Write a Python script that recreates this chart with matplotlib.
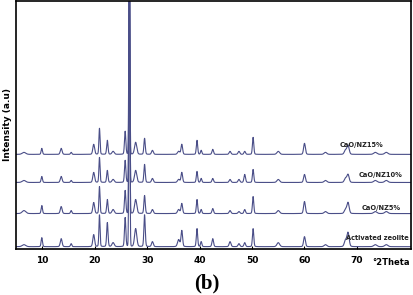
import numpy as np
import matplotlib
matplotlib.use("Agg")
import matplotlib.pyplot as plt

# XRD peak tables: position (deg 2theta), height (px), width (deg)
positions = [6.5, 9.9, 13.6, 15.5, 19.8, 20.9, 22.4, 23.5, 25.8, 26.6, 27.8, 29.5,
             31.0, 36.0, 36.6, 39.5, 40.3, 42.5, 45.8, 47.5, 48.6, 50.2, 55.0,
             60.0, 64.0, 67.8, 68.3, 73.5, 75.6]
widths = [0.8, 0.3, 0.4, 0.3, 0.4, 0.25, 0.3, 0.5, 0.3, 0.22, 0.5, 0.3,
          0.4, 0.5, 0.35, 0.3, 0.3, 0.35, 0.4, 0.4, 0.35, 0.3, 0.6,
          0.4, 0.6, 0.5, 0.5, 0.7, 0.7]

h_zeolite = [2, 9, 8, 3, 12, 32, 24, 4, 29, 320, 18, 32,
             5, 7, 16, 18, 5, 8, 5, 3, 4, 18, 4,
             10, 2, 6, 14, 2, 2]
h_nz5 = [3, 8, 7, 3, 11, 27, 14, 4, 23, 300, 14, 18,
         4, 4, 10, 14, 4, 5, 3, 2, 4, 17, 3,
         12, 2, 4, 11, 2, 2]
h_nz10 = [2, 6, 6, 2, 10, 25, 12, 3, 22, 280, 12, 18,
          4, 3, 10, 11, 4, 4, 3, 3, 8, 13, 3,
          8, 2, 4, 8, 2, 2]
h_nz15 = [2, 6, 6, 2, 10, 26, 14, 3, 23, 260, 12, 16,
          4, 3, 10, 14, 4, 5, 3, 3, 3, 17, 3,
          11, 2, 4, 9, 2, 2]

offsets = [2, 35, 66, 94]
labels = ["Activated zeolite", "CaO/NZ5%", "CaO/NZ10%", "CaO/NZ15%"]
label_x = [73.9, 74.6, 74.6, 70.8]
label_y = [11, 41, 73, 103]

xticks = [10, 20, 30, 40, 50, 60, 70]


def pattern(x, heights):
    y = np.zeros_like(x)
    for p, h, w in zip(positions, heights, widths):
        sig = w / 2.355
        y += 0.85 * h * np.exp(-0.5 * ((x - p) / sig) ** 2)
        y += 0.15 * h / (1 + ((x - p) / (w / 2)) ** 2) * min(1, 30 / h)
    return y


x = np.linspace(5, 80.3, 4000)

fig = plt.figure(figsize=(4.13, 2.95), dpi=100)
ax = fig.add_axes([0.039, 0.157, 0.956, 0.84])

for heights, off in zip([h_zeolite, h_nz5, h_nz10, h_nz15], offsets):
    ax.plot(x, pattern(x, heights) + off, color="#4a4e88", linewidth=0.8)

for lab, lx, ly in zip(labels, label_x, label_y):
    ax.text(lx, ly, lab, fontsize=4.8, ha="center", va="center",
            color="#222222", fontweight="bold")

ax.set_xlim(5, 80.3)
ax.set_ylim(0, 247)
ax.set_xticks(xticks)
ax.set_xticklabels([str(t) for t in xticks], fontsize=6.5, fontweight="bold")
ax.tick_params(axis="x", direction="in", length=2, pad=5)
ax.set_yticks([])
ax.set_ylabel("Intensity (a.u)", fontsize=6.5, fontweight="bold", labelpad=3)
for s in ax.spines.values():
    s.set_linewidth(1.2)

ax.text(80.1, -9, "°2Theta", fontsize=6, fontweight="bold", ha="right", va="top")

fig.text(0.5, 0.04, "(b)", fontsize=15, fontweight="bold", ha="center", va="center",
         family="Liberation Serif")

fig.savefig("out.png", dpi=100)
